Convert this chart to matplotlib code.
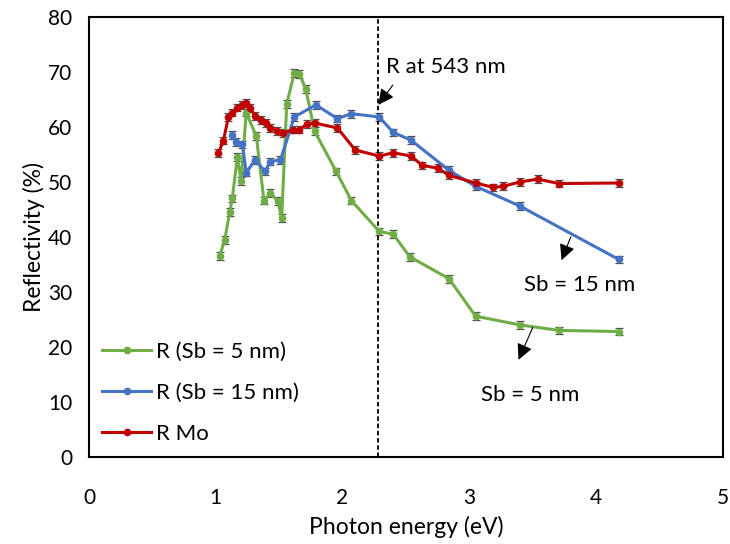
import matplotlib.pyplot as plt
from matplotlib.lines import Line2D

plt.rcParams['font.family'] = ['Lato', 'DejaVu Sans']

# Sb = 5 nm
e_sb5 = [1.03, 1.07, 1.11, 1.13, 1.17, 1.20, 1.24, 1.32, 1.38, 1.43, 1.49, 1.52,
         1.56, 1.62, 1.66, 1.71, 1.78, 1.95, 2.07, 2.29, 2.40, 2.53, 2.84, 3.05,
         3.40, 3.71, 4.18]
r_sb5 = [36.5, 39.4, 44.5, 47.0, 54.5, 50.2, 62.6, 58.3, 46.6, 48.0, 46.5, 43.4,
         64.2, 69.8, 69.6, 66.9, 59.2, 51.9, 46.6, 41.0, 40.5, 36.4, 32.4, 25.6,
         24.0, 23.0, 22.8]

# Sb = 15 nm
e_sb15 = [1.13, 1.16, 1.21, 1.24, 1.31, 1.39, 1.43, 1.51, 1.62, 1.79, 1.96, 2.07,
          2.29, 2.40, 2.54, 2.84, 3.05, 3.40, 4.18]
r_sb15 = [58.5, 57.3, 56.8, 51.7, 54.0, 51.9, 53.7, 54.0, 61.8, 64.0, 61.5, 62.4,
          61.8, 59.0, 57.6, 52.1, 49.2, 45.6, 35.9]

# Mo
e_mo = [1.02, 1.06, 1.10, 1.13, 1.17, 1.21, 1.24, 1.27, 1.31, 1.36, 1.40, 1.43,
        1.48, 1.53, 1.61, 1.66, 1.72, 1.78, 1.96, 2.10, 2.29, 2.40, 2.54, 2.63,
        2.75, 2.84, 3.05, 3.19, 3.27, 3.40, 3.54, 3.71, 4.18]
r_mo = [55.2, 57.5, 61.8, 62.6, 63.5, 64.0, 64.3, 63.4, 62.0, 61.3, 60.7, 59.8,
        59.3, 58.9, 59.5, 59.5, 60.5, 60.7, 59.8, 55.8, 54.7, 55.3, 54.7, 53.0,
        52.5, 51.2, 49.8, 49.0, 49.2, 50.0, 50.5, 49.7, 49.8]

series = [
    (e_sb5, r_sb5, '#70AD47', 'R (Sb = 5 nm)'),
    (e_sb15, r_sb15, '#4472C4', 'R (Sb = 15 nm)'),
    (e_mo, r_mo, '#C00000', 'R Mo'),
]

fig = plt.figure(figsize=(7.3, 5.44), dpi=100)
ax = fig.add_axes([0.122, 0.160, 0.868, 0.809])

handles = []
for x, y, c, lab in series:
    ax.errorbar(x, y, yerr=0.7, color=c, lw=2.2, marker='o', ms=4.5,
                ecolor='#505050', elinewidth=0.9, capsize=3, capthick=0.9)
    handles.append(Line2D([], [], color=c, lw=2.2, marker='o', ms=4.5, label=lab))

ax.axvline(2.28, color='black', ls=(0, (2.5, 1.5)), lw=1.3)

arrow = dict(arrowstyle='-|>', color='black', lw=0.8, mutation_scale=24)
ax.annotate('', xy=(2.27, 63.6), xytext=(2.41, 68.0), arrowprops=arrow)
ax.text(2.34, 70.8, 'R at 543 nm', fontsize=16, va='center', ha='left')
ax.annotate('', xy=(3.72, 35.3), xytext=(3.81, 40.5), arrowprops=arrow)
ax.text(3.87, 31.3, 'Sb = 15 nm', fontsize=16, va='center', ha='center')
ax.annotate('', xy=(3.38, 17.2), xytext=(3.51, 24.0), arrowprops=arrow)
ax.text(3.48, 11.3, 'Sb = 5 nm', fontsize=16, va='center', ha='center')

ax.set_xlim(0, 5)
ax.set_ylim(0, 80)
ax.set_xticks(range(0, 6))
ax.set_yticks(range(0, 81, 10))
ax.tick_params(length=0, labelsize=15)
ax.tick_params(axis='x', pad=22)
ax.tick_params(axis='y', pad=12)
for s in ax.spines.values():
    s.set_linewidth(1.5)
ax.set_xlabel('Photon energy (eV)', fontsize=16.5, labelpad=6)
ax.set_ylabel('Reflectivity (%)', fontsize=16.5, labelpad=2)

ax.legend(handles=handles, loc='lower left', bbox_to_anchor=(0.0, 0.0),
          frameon=False, fontsize=16, handlelength=2.2, handletextpad=0.2,
          labelspacing=0.95, borderaxespad=0.2)

fig.savefig('out.png', dpi=100)
